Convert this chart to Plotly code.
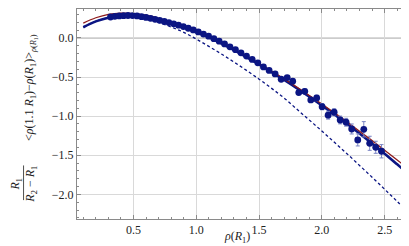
import plotly.graph_objects as go

# ---------------- data ----------------
curve_x = [0.1, 0.2, 0.3, 0.4, 0.5, 0.6, 0.7, 0.8, 0.9, 1.0, 1.1, 1.2, 1.3, 1.4,
           1.5, 1.6, 1.7, 1.8, 1.9, 2.0, 2.1, 2.2, 2.3, 2.4, 2.5, 2.6, 2.7]
red_y = [0.19, 0.258, 0.302, 0.318, 0.312, 0.29, 0.25, 0.202, 0.15, 0.09, 0.02,
         -0.06, -0.146, -0.235, -0.328, -0.425, -0.524, -0.628, -0.735, -0.845,
         -0.957, -1.073, -1.192, -1.313, -1.436, -1.561, -1.688]
blue_y = [0.137, 0.212, 0.258, 0.282, 0.287, 0.268, 0.232, 0.192, 0.143, 0.083,
          0.012, -0.070, -0.156, -0.245, -0.338, -0.436, -0.536, -0.641, -0.750,
          -0.862, -0.978, -1.098, -1.222, -1.349, -1.480, -1.616, -1.754]
dash_y = [0.137, 0.212, 0.258, 0.28, 0.28, 0.25, 0.20, 0.14, 0.072, -0.015,
          -0.108, -0.205, -0.308, -0.415, -0.527, -0.645, -0.768, -0.91, -1.05,
          -1.19, -1.335, -1.48, -1.63, -1.78, -1.935, -2.09, -2.25]

data_x = [0.317, 0.351, 0.386, 0.421, 0.456, 0.492, 0.528, 0.564, 0.600, 0.636,
          0.672, 0.708, 0.745, 0.782, 0.820, 0.858, 0.897, 0.936, 0.976, 1.016,
          1.057, 1.098, 1.140, 1.182, 1.225, 1.268, 1.312, 1.356, 1.400, 1.445,
          1.490, 1.535, 1.580, 1.628, 1.676, 1.724, 1.768, 1.816, 1.864, 1.912,
          1.959, 2.002, 2.050, 2.098, 2.146, 2.193, 2.238, 2.286, 2.334, 2.381,
          2.429, 2.475]
data_y = [0.268, 0.276, 0.282, 0.285, 0.287, 0.286, 0.281, 0.272, 0.262, 0.251,
          0.238, 0.225, 0.211, 0.196, 0.180, 0.163, 0.145, 0.124, 0.102, 0.077,
          0.050, 0.022, -0.010, -0.042, -0.077, -0.113, -0.150, -0.190, -0.232,
          -0.275, -0.318, -0.370, -0.415, -0.460, -0.528, -0.507, -0.554, -0.699,
          -0.682, -0.793, -0.767, -0.879, -0.988, -0.950, -1.049, -1.078, -1.164,
          -1.304, -1.168, -1.347, -1.398, -1.449]
data_err = [0.004] * 22 + [0.006] * 9 + [0.01, 0.012, 0.014, 0.016, 0.018, 0.02,
            0.025, 0.03, 0.03, 0.035, 0.04, 0.05, 0.045, 0.05, 0.05, 0.064,
            0.077, 0.098, 0.09, 0.077, 0.085]

x_ticks = [0.5, 1.0, 1.5, 2.0, 2.5]
y_ticks = [0.0, -0.5, -1.0, -1.5, -2.0]
axes_origin = (0.5, 0.0)

NAVY = "#0b1583"
RED = "#8e1b1b"
ERR = "#7a84c4"
SERIF = "Liberation Serif"
TXT = "#222222"

fig = go.Figure()
fig.add_trace(go.Scatter(x=curve_x, y=dash_y, mode="lines", line_shape="spline",
                         line=dict(color=NAVY, width=1.3, dash="3px,2.5px")))
fig.add_trace(go.Scatter(x=curve_x, y=blue_y, mode="lines", line_shape="spline",
                         line=dict(color=NAVY, width=2.6)))
fig.add_trace(go.Scatter(x=curve_x, y=red_y, mode="lines", line_shape="spline",
                         line=dict(color=RED, width=1.3)))
fig.add_trace(go.Scatter(x=data_x, y=data_y, mode="markers",
                         marker=dict(color=NAVY, size=6.8),
                         error_y=dict(type="data", array=data_err, color=ERR,
                                      thickness=1, width=2)))

# Mathematica-style axes through (0.5, 0)
fig.add_shape(type="line", xref="x", yref="paper", x0=axes_origin[0], x1=axes_origin[0],
              y0=0, y1=1, line=dict(color="#8c8c8c", width=1), layer="below")
fig.add_shape(type="line", xref="paper", yref="y", x0=0, x1=1, y0=axes_origin[1],
              y1=axes_origin[1], line=dict(color="#8c8c8c", width=1), layer="below")

lbl = dict(xref="paper", yref="paper", showarrow=False, xanchor="center", yanchor="middle",
           font=dict(family=SERIF, size=12, color=TXT))
# y-axis label: fraction + bracket expression
fig.add_annotation(text="<i>R</i><sub>1</sub>", x=-0.183, y=0.168, textangle=-90, **lbl)
fig.add_annotation(text="<i>R</i><sub>2</sub> − <i>R</i><sub>1</sub>", x=-0.138, y=0.168,
                   textangle=-90, **lbl)
fig.add_shape(type="line", xref="paper", yref="paper", x0=-0.160, x1=-0.160,
              y0=0.09, y1=0.255, line=dict(color=TXT, width=0.8))
fig.add_annotation(text="&lt;<i>ρ</i>(1.1 <i>R</i><sub>1</sub>)−<i>ρ</i>(<i>R</i><sub>1</sub>)&gt;<sub><i>ρ</i>(<i>R</i><sub>1</sub>)</sub>",
                   x=-0.14, y=0.625, textangle=-90, **lbl)
fig.add_annotation(text="<i>ρ</i>(<i>R</i><sub>1</sub>)", x=0.48, y=-0.088, **lbl)

axis_common = dict(showline=True, mirror="allticks", linecolor="#8a8a8a", linewidth=1,
                   ticks="inside", ticklen=4, tickcolor="#8a8a8a", tickwidth=1,
                   showgrid=True, gridcolor="#d9d9d9", gridwidth=1, zeroline=False,
                   tickfont=dict(family=SERIF, size=12, color=TXT))
fig.update_xaxes(range=[0.05, 2.71], tickvals=x_ticks, ticktext=[f"{v:.1f}" for v in x_ticks],
                 minor=dict(dtick=0.1, tick0=0, ticks="inside", ticklen=2, tickcolor="#8a8a8a",
                            showgrid=False),
                 **axis_common)
fig.update_yaxes(range=[-2.315, 0.37], tickvals=y_ticks,
                 ticktext=[("−" if v < 0 else "") + f"{abs(v):.1f}" for v in y_ticks],
                 minor=dict(dtick=0.1, tick0=0, ticks="inside", ticklen=2, tickcolor="#8a8a8a",
                            showgrid=False),
                 **axis_common)
fig.update_layout(width=409, height=246, showlegend=False,
                  font=dict(family=SERIF, size=12, color=TXT),
                  margin=dict(l=69, r=6, t=1, b=35),
                  plot_bgcolor="white", paper_bgcolor="white")
fig.write_html("out.html")
